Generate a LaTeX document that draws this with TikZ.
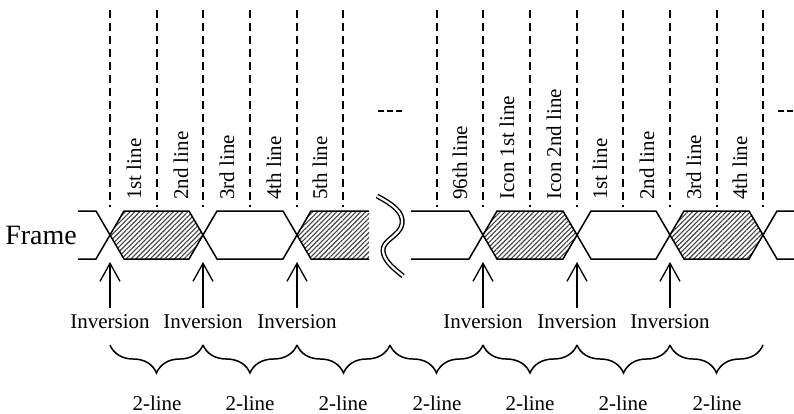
\documentclass[tikz,border=0pt]{standalone}
\usepackage{fontspec}
\setmainfont{Liberation Serif}
\usetikzlibrary{arrows.meta, decorations.pathreplacing, patterns.meta}

\begin{document}
\begin{tikzpicture}[
    x=1pt, y=-1pt,
    font=\fontsize{21}{25}\selectfont,
    wire/.style={line width=1.5pt, line join=miter},
    hatch/.style={pattern={Lines[angle=45, distance=3.4pt, line width=1.1pt]},
                  pattern color=black!75},
    guide/.style={dash pattern=on 8pt off 5pt, line width=1.2pt},
    linelabel/.style={rotate=90, anchor=west, inner sep=0pt},
    invlabel/.style={inner xsep=0pt, inner ysep=7pt},
    pulse/.style={-{Straight Barb[length=18pt, width=20pt]}, line width=1.3pt},
    grp/.style={decorate, decoration={brace, mirror, amplitude=28pt},
                line width=1.5pt},
    grplabel/.style={inner sep=0pt}
  ]
    \useasboundingbox (0,0) rectangle (794,414);
    % frame signal, first part
    \node[anchor=east, inner sep=0pt, font=\fontsize{28}{32}\selectfont]
      (frame) at (77,235) {Frame};
    \draw[wire] (78,211) -- (96,211) -- (110,235) -- (96,259) -- (78,259);
    \draw[wire, hatch] (110,235) -- (124,211) -- (189,211) -- (203,235)
      -- (189,259) -- (124,259) -- cycle;
    \draw[wire] (203,235) -- (217,211) -- (283,211) -- (297,235)
      -- (283,259) -- (217,259) -- cycle;
    \fill[hatch] (297,235) -- (311,211) -- (369,211) -- (369,259)
      -- (311,259) -- cycle;
    \draw[wire] (369,211) -- (311,211) -- (297,235) -- (311,259) -- (369,259);
    % break mark
    \draw[line width=1.4pt, double distance=2.2pt]
      (377,196) .. controls (392,204) and (404,212) .. (402,224)
      .. controls (400,236) and (382,240) .. (383,251)
      .. controls (384,262) and (396,270) .. (403,276);
    \draw[line width=1.2pt, dash pattern=on 6pt off 3pt] (378,111) -- (402,111);
    \draw[line width=1.2pt, dash pattern=on 6pt off 3pt] (778,111) -- (802,111);
    % frame signal, second part
    \draw[wire] (411,211) -- (469,211) -- (483,235) -- (469,259) -- (411,259);
    \draw[wire, hatch] (483,235) -- (497,211) -- (563,211) -- (577,235)
      -- (563,259) -- (497,259) -- cycle;
    \draw[wire] (577,235) -- (591,211) -- (656,211) -- (670,235)
      -- (656,259) -- (591,259) -- cycle;
    \draw[wire, hatch] (670,235) -- (684,211) -- (749,211) -- (763,235)
      -- (749,259) -- (684,259) -- cycle;
    \draw[wire] (794,211) -- (777,211) -- (763,235) -- (777,259) -- (794,259);
    % line borders
    \draw[guide] (110,10) -- (110,207);
    \draw[guide] (157,10) -- (157,207);
    \draw[guide] (203,10) -- (203,207);
    \draw[guide] (250,10) -- (250,207);
    \draw[guide] (297,10) -- (297,207);
    \draw[guide] (343,10) -- (343,207);
    \draw[guide] (437,10) -- (437,207);
    \draw[guide] (483,10) -- (483,207);
    \draw[guide] (530,10) -- (530,207);
    \draw[guide] (577,10) -- (577,207);
    \draw[guide] (623,10) -- (623,207);
    \draw[guide] (670,10) -- (670,207);
    \draw[guide] (717,10) -- (717,207);
    \draw[guide] (763,10) -- (763,207);
    % line names
    \node[linelabel] (ln1) at (134,200) {1st line};
    \node[linelabel] (ln2) at (181,200) {2nd line};
    \node[linelabel] (ln3) at (227,200) {3rd line};
    \node[linelabel] (ln4) at (274,200) {4th line};
    \node[linelabel] (ln5) at (320,200) {5th line};
    \node[linelabel] (ln96) at (460,200) {96th line};
    \node[linelabel] (icon1) at (507,200) {Icon 1st line};
    \node[linelabel] (icon2) at (554,200) {Icon 2nd line};
    \node[linelabel] (rn1) at (600,200) {1st line};
    \node[linelabel] (rn2) at (647,200) {2nd line};
    \node[linelabel] (rn3) at (694,200) {3rd line};
    \node[linelabel] (rn4) at (740,200) {4th line};
    % inversion points
    \node[invlabel] (inv1) at (110,322) {Inversion};
    \node[invlabel] (inv2) at (203,322) {Inversion};
    \node[invlabel] (inv3) at (297,322) {Inversion};
    \node[invlabel] (inv4) at (483,322) {Inversion};
    \node[invlabel] (inv5) at (577,322) {Inversion};
    \node[invlabel] (inv6) at (670,322) {Inversion};
    \coordinate (hit1) at (110,262);
    \coordinate (hit2) at (203,262);
    \coordinate (hit3) at (297,262);
    \coordinate (hit4) at (483,262);
    \coordinate (hit5) at (577,262);
    \coordinate (hit6) at (670,262);
    \draw[pulse] (inv1) -- (hit1);
    \draw[pulse] (inv2) -- (hit2);
    \draw[pulse] (inv3) -- (hit3);
    \draw[pulse] (inv4) -- (hit4);
    \draw[pulse] (inv5) -- (hit5);
    \draw[pulse] (inv6) -- (hit6);
    % 2-line groups
    \coordinate (br0) at (110,345);
    \coordinate (br1) at (203,345);
    \coordinate (br2) at (297,345);
    \coordinate (br3) at (390,345);
    \coordinate (br4) at (483,345);
    \coordinate (br5) at (577,345);
    \coordinate (br6) at (670,345);
    \coordinate (br7) at (763,345);
    \draw[grp] (br0) -- (br1);
    \draw[grp] (br1) -- (br2);
    \draw[grp] (br2) -- (br3);
    \draw[grp] (br3) -- (br4);
    \draw[grp] (br4) -- (br5);
    \draw[grp] (br5) -- (br6);
    \draw[grp] (br6) -- (br7);
    \node[grplabel] (g1) at (157,403) {2-line};
    \node[grplabel] (g2) at (250,403) {2-line};
    \node[grplabel] (g3) at (343,403) {2-line};
    \node[grplabel] (g4) at (437,403) {2-line};
    \node[grplabel] (g5) at (530,403) {2-line};
    \node[grplabel] (g6) at (623,403) {2-line};
    \node[grplabel] (g7) at (717,403) {2-line};
  \end{tikzpicture}
\end{document}
